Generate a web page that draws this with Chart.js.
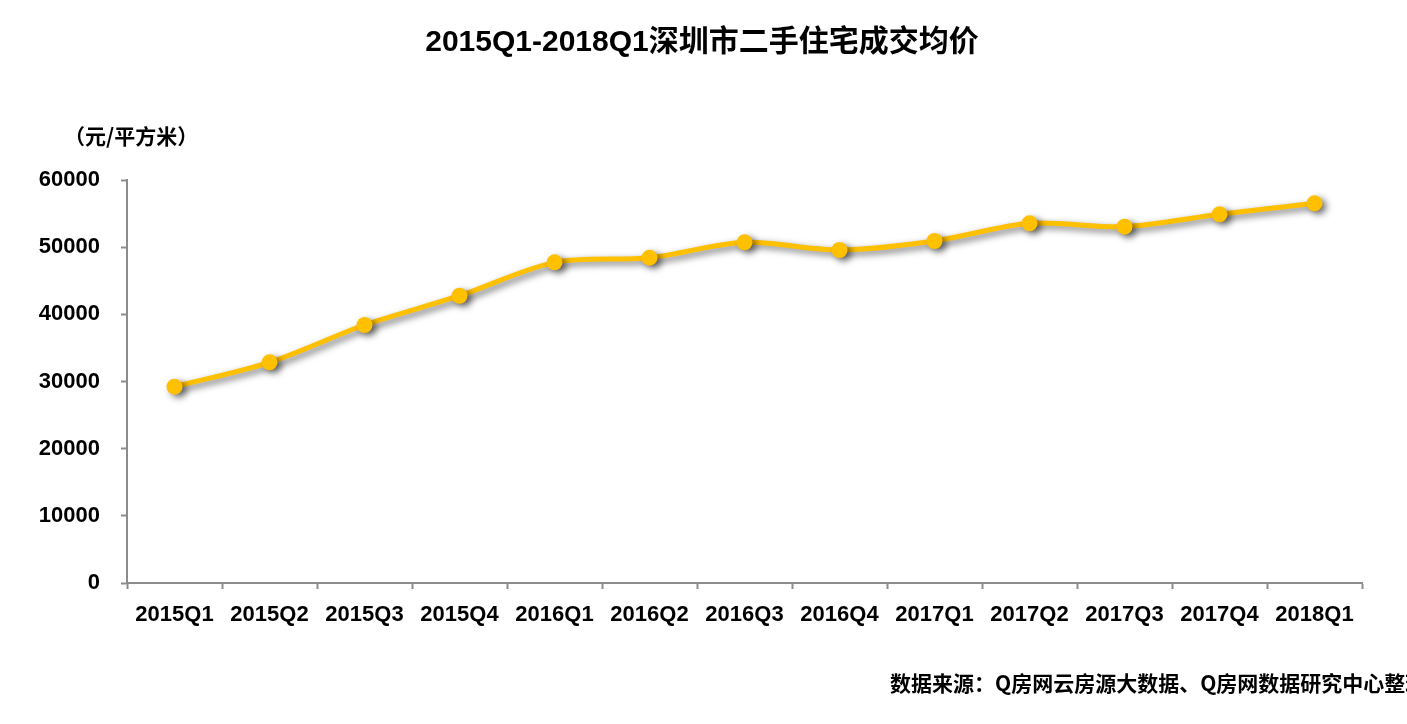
<!DOCTYPE html>
<html>
<head>
<meta charset="utf-8">
<script src="https://cdn.jsdelivr.net/npm/chart.js@4/dist/chart.umd.min.js"></script>
<style>
  body { margin: 0; background: #fff; }
  #wrap { width: 1407px; height: 724px; }
</style>
</head>
<body>
<div id="wrap"><canvas id="grafico-preco" width="1407" height="724"></canvas></div>
<script>
// 深圳二手住宅成交均价（元/平方米）
const quarters = [
  '2015Q1', '2015Q2', '2015Q3', '2015Q4', '2016Q1', '2016Q2', '2016Q3',
  '2016Q4', '2017Q1', '2017Q2', '2017Q3', '2017Q4', '2018Q1'
];
const avgPrice = [29230, 32860, 38410, 42770, 47740, 48430, 50720, 49580, 50920, 53550, 53050, 54890, 56530];
const yTickValues = [0, 10000, 20000, 30000, 40000, 50000, 60000];

const titleText = '2015Q1-2018Q1深圳市二手住宅成交均价';
const unitText = '（元/平方米）';
const sourceText = '数据来源：Q房网云房源大数据、Q房网数据研究中心整理';

const latin = '"Liberation Sans", "Noto Sans CJK SC", sans-serif';
const cjk = '"Noto Sans CJK SC", "Liberation Sans", sans-serif';

// sombra nos pontos e na linha
const sombra = {
  id: 'sombra',
  beforeDatasetDraw(chart) {
    const c = chart.ctx;
    c.save();
    c.shadowColor = 'rgba(0,0,0,0.55)';
    c.shadowBlur = 7;
    c.shadowOffsetX = 4;
    c.shadowOffsetY = 3;
  },
  afterDatasetDraw(chart) {
    chart.ctx.restore();
  }
};

// textos fixos: título, unidade e fonte
const textos = {
  id: 'textos',
  afterDraw(chart) {
    const c = chart.ctx;
    c.save();
    c.fillStyle = '#000';
    c.textBaseline = 'middle';
    c.textAlign = 'center';
    c.font = 'bold 30px ' + latin;
    c.fillText(titleText, 702, 43);
    c.textAlign = 'left';
    c.font = 'bold 21px ' + cjk;
    c.fillText(unitText, 64, 136);
    c.fillText(sourceText, 890, 683);
    c.restore();
  }
};

const ctx = document.getElementById('grafico-preco').getContext('2d');
new Chart(ctx, {
  type: 'line',
  data: {
    labels: quarters,
    datasets: [{
      label: '成交均价',
      data: avgPrice,
      borderColor: '#FFC000',
      backgroundColor: '#FFC000',
      borderWidth: 5,
      pointRadius: 8,
      pointHoverRadius: 8,
      pointBorderWidth: 0,
      tension: 0.3,
      fill: false
    }]
  },
  options: {
    responsive: false,
    animation: false,
    layout: { padding: { top: 180, right: 45, left: 0, bottom: 0 } },
    plugins: {
      legend: { display: false },
      tooltip: { enabled: false }
    },
    scales: {
      x: {
        offset: true,
        afterFit: s => { s.height = 141; },
        border: { color: '#8c8c8c', width: 2 },
        grid: {
          offset: true,
          drawOnChartArea: false,
          tickLength: 6,
          tickWidth: 2,
          tickColor: '#8c8c8c'
        },
        ticks: {
          color: '#000',
          padding: 13,
          maxRotation: 0,
          font: { family: latin, size: 22, weight: 'bold' }
        }
      },
      y: {
        min: 0,
        max: 60000,
        afterFit: s => { s.width = 127; },
        afterBuildTicks: s => { s.ticks = yTickValues.map(v => ({ value: v })); },
        border: { color: '#8c8c8c', width: 2 },
        grid: {
          drawOnChartArea: false,
          tickLength: 6,
          tickWidth: 2,
          tickColor: '#8c8c8c'
        },
        ticks: {
          color: '#000',
          padding: 21,
          callback: v => String(v),
          font: { family: latin, size: 22, weight: 'bold' }
        }
      }
    }
  },
  plugins: [sombra, textos]
});
</script>
</body>
</html>
